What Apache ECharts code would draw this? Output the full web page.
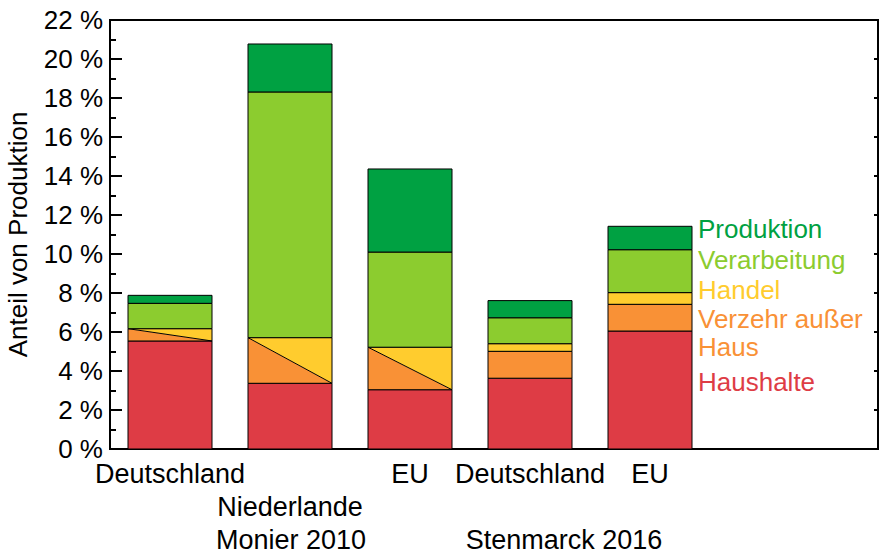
<!DOCTYPE html>
<html>
<head>
<meta charset="utf-8">
<script src="https://cdn.jsdelivr.net/npm/echarts@6/dist/echarts.min.js"></script>
<style>
  html, body { margin: 0; padding: 0; background: #fff; }
  #chart { width: 880px; height: 557px; }
</style>
</head>
<body>
<div id="chart"></div>
<script>
// Anteil der Lebensmittelverluste je Stufe (in % der Produktion)
var categories = ['Deutschland', 'Niederlande', 'EU', 'Deutschland', 'EU'];
var studies = ['Monier 2010', 'Stenmarck 2016'];
var haushalte = [5.54, 3.37, 3.04, 3.63, 6.05];
var verzehr = [null, null, null, 1.38, 1.37];
var handel = [null, null, null, 0.39, 0.60];
var verzehrHandel = [0.63, 2.34, 2.18, null, null]; // bei Monier nicht getrennt
var verarbeitung = [1.30, 12.60, 4.88, 1.33, 2.20];
var produktion = [0.41, 2.46, 4.26, 0.88, 1.20];

var colors = {
  haushalte: '#de3c45',
  verzehr: '#f99136',
  handel: '#ffcc2e',
  verarbeitung: '#8ccc2f',
  produktion: '#00a142'
};
var font = 'Liberation Sans, Arial, sans-serif';

var layers = [haushalte, verzehr, handel, verzehrHandel, verarbeitung, produktion];

// stack in the order above, returns [x, unten, oben]
function stackData(idx) {
  var out = [];
  for (var i = 0; i < categories.length; i++) {
    var base = 0;
    for (var k = 0; k < idx; k++) base += layers[k][i] || 0;
    var v = layers[idx][i];
    if (v == null) continue;
    out.push([i + 0.5, base, base + v]);
  }
  return out;
}

function rectItem(params, api) {
  var lo = api.coord([api.value(0), api.value(1)]);
  var hi = api.coord([api.value(0), api.value(2)]);
  var w = api.size([0.7, 0])[0];
  return {
    type: 'rect',
    shape: { x: lo[0] - w / 2, y: hi[1], width: w, height: lo[1] - hi[1] },
    style: { fill: api.visual('color'), stroke: '#000', lineWidth: 1 }
  };
}

// Verzehr + Handel zusammen: diagonal geteilt
function splitItem(params, api) {
  var lo = api.coord([api.value(0), api.value(1)]);
  var hi = api.coord([api.value(0), api.value(2)]);
  var w = api.size([0.7, 0])[0];
  var l = lo[0] - w / 2, r = lo[0] + w / 2, b = lo[1], t = hi[1];
  return {
    type: 'group',
    children: [
      { type: 'polygon', shape: { points: [[l, t], [l, b], [r, b]] }, style: { fill: colors.verzehr } },
      { type: 'polygon', shape: { points: [[l, t], [r, t], [r, b]] }, style: { fill: colors.handel } },
      { type: 'line', shape: { x1: l, y1: t, x2: r, y2: b }, style: { stroke: '#000', lineWidth: 1 } },
      { type: 'rect', shape: { x: l, y: t, width: w, height: b - t }, style: { fill: null, stroke: '#000', lineWidth: 1 } }
    ]
  };
}

function makeSeries(name, idx, color, render) {
  return {
    name: name,
    type: 'custom',
    renderItem: render || rectItem,
    itemStyle: { color: color },
    encode: { x: 0, y: [1, 2] },
    data: stackData(idx)
  };
}

var legendItems = [
  { text: 'Produktion', color: colors.produktion, y: 229 },
  { text: 'Verarbeitung', color: colors.verarbeitung, y: 260 },
  { text: 'Handel', color: colors.handel, y: 290 },
  { text: 'Verzehr außer', color: colors.verzehr, y: 319 },
  { text: 'Haus', color: colors.verzehr, y: 347 },
  { text: 'Haushalte', color: colors.haushalte, y: 382 }
];

var chart = echarts.init(document.getElementById('chart'), null, { renderer: 'svg' });

chart.setOption({
  animation: false,
  textStyle: { fontFamily: font },
  grid: {
    left: 110, right: 2, top: 20, bottom: 108,
    outerBoundsMode: 'none',
    containLabel: false,
    show: true, borderColor: '#000', borderWidth: 2
  },
  xAxis: {
    type: 'value',
    min: 0,
    max: 768 / 120,
    interval: 0.5,
    splitLine: { show: false },
    axisLine: { lineStyle: { color: '#000', width: 2 } },
    axisTick: { show: false },
    axisLabel: {
      color: '#000', fontSize: 27, lineHeight: 33, margin: 8,
      showMinLabel: true, showMaxLabel: false,
      formatter: function (v) {
        var i = Math.round(v - 0.5);
        if (Math.abs(v - (i + 0.5)) > 1e-6 || i < 0 || i >= categories.length) return '';
        return i === 1 ? '\n' + categories[i] : categories[i];
      }
    }
  },
  yAxis: [{
    type: 'value',
    min: 0, max: 22, interval: 2,
    name: 'Anteil von Produktion',
    nameLocation: 'middle',
    nameGap: 79,
    nameTextStyle: { color: '#000', fontSize: 26 },
    splitLine: { show: false },
    axisLine: { show: true, lineStyle: { color: '#000', width: 2 } },
    axisTick: { inside: true, length: 12, lineStyle: { color: '#000', width: 2 } },
    minorTick: { show: true, splitNumber: 2, length: 6, lineStyle: { color: '#000', width: 2 } },
    axisLabel: { color: '#000', fontSize: 26, margin: 7, formatter: '{value} %' }
  }, {
    type: 'value',
    position: 'right',
    min: 0, max: 22, interval: 2,
    splitLine: { show: false },
    axisLine: { show: true, lineStyle: { color: '#000', width: 2 } },
    axisTick: { inside: true, length: 4, lineStyle: { color: '#000', width: 2 } },
    axisLabel: { show: false }
  }],
  series: [
    makeSeries('Haushalte', 0, colors.haushalte),
    makeSeries('Verzehr außer Haus', 1, colors.verzehr),
    makeSeries('Handel', 2, colors.handel),
    makeSeries('Verzehr außer Haus / Handel', 3, colors.verzehr, splitItem),
    makeSeries('Verarbeitung', 4, colors.verarbeitung),
    makeSeries('Produktion', 5, colors.produktion)
  ],
  graphic: legendItems.map(function (d) {
    return {
      type: 'text', x: 698, y: d.y,
      style: { text: d.text, fill: d.color, font: '26px ' + font, verticalAlign: 'middle' }
    };
  }).concat([
    { type: 'text', x: 291, y: 540, style: { text: studies[0], fill: '#000', font: '27px ' + font, align: 'center', verticalAlign: 'middle' } },
    { type: 'text', x: 564, y: 540, style: { text: studies[1], fill: '#000', font: '27px ' + font, align: 'center', verticalAlign: 'middle' } }
  ])
});
</script>
</body>
</html>
